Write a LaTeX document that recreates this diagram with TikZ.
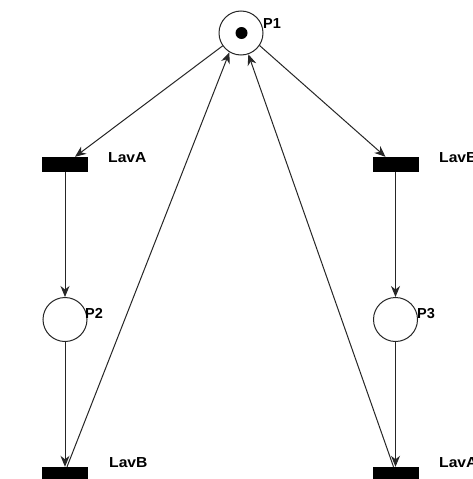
\documentclass[tikz,border=0pt]{standalone}
\usepackage{fontspec}
\setmainfont{Liberation Sans}
\usetikzlibrary{arrows.meta,calc}
\tikzset{
  place/.style={circle,draw=black!85,line width=1pt,fill=white,minimum size=44pt,inner sep=0pt},
  trans/.style={rectangle,fill=black,draw=none,minimum width=46pt,minimum height=15pt,inner sep=0pt},
  lbl/.style={anchor=base west,inner sep=0pt,font=\fontsize{14.5}{16}\selectfont\bfseries},
  wlbl/.style={lbl,xscale=1.08},
  arc/.style={draw=black!85,line width=1pt,-{Stealth[length=11pt,width=9pt,inset=3.5pt]}},
  token/.style={circle,fill=black,minimum size=12pt,inner sep=0pt}
}
\begin{document}
\begin{tikzpicture}[x=1pt,y=-1pt]
\useasboundingbox (0,0) rectangle (472,479);
\clip (0,0) rectangle (472,479);
\fill[white] (0,0) rectangle (472,479);
% places
\node[place] (P1) at (241,33) {};
\node[token] (tok) at (241.5,33) {};
\node[place] (P2) at (65,319.5) {};
\node[place] (P3) at (395.5,319.5) {};
% transitions
\node[trans] (T1) at (65,164.5) {};
\node[trans] (T2) at (395.5,164.5) {};
\node[trans] (T3) at (65,474.5) {};
\node[trans] (T4) at (395.5,474.5) {};
% labels
\node[lbl] (lP1) at (263,28) {P1};
\node[lbl] (lP2) at (85,318) {P2};
\node[lbl] (lP3) at (417,318) {P3};
\node[wlbl] (lT1) at (108,162) {LavA};
\node[wlbl] (lT2) at (439,162) {LavB};
\node[wlbl] (lT3) at (109,467) {LavB};
\node[wlbl] (lT4) at (439,467) {LavA};
% arcs
\draw[arc] (P1.215) -- ([xshift=10pt]T1.north);
\draw[arc] (P1.326) -- ([xshift=-10pt]T2.north);
\draw[arc] (T1.south) -- (P2.north);
\draw[arc] (T2.south) -- (P3.north);
\draw[arc] (P2.south) -- (T3.north);
\draw[arc] (P3.south) -- (T4.north);
\draw[arc] ([xshift=2pt]T3.north) -- (P1.239);
\draw[arc] ([xshift=-2pt]T4.north) -- (P1.289);
\end{tikzpicture}
\end{document}
